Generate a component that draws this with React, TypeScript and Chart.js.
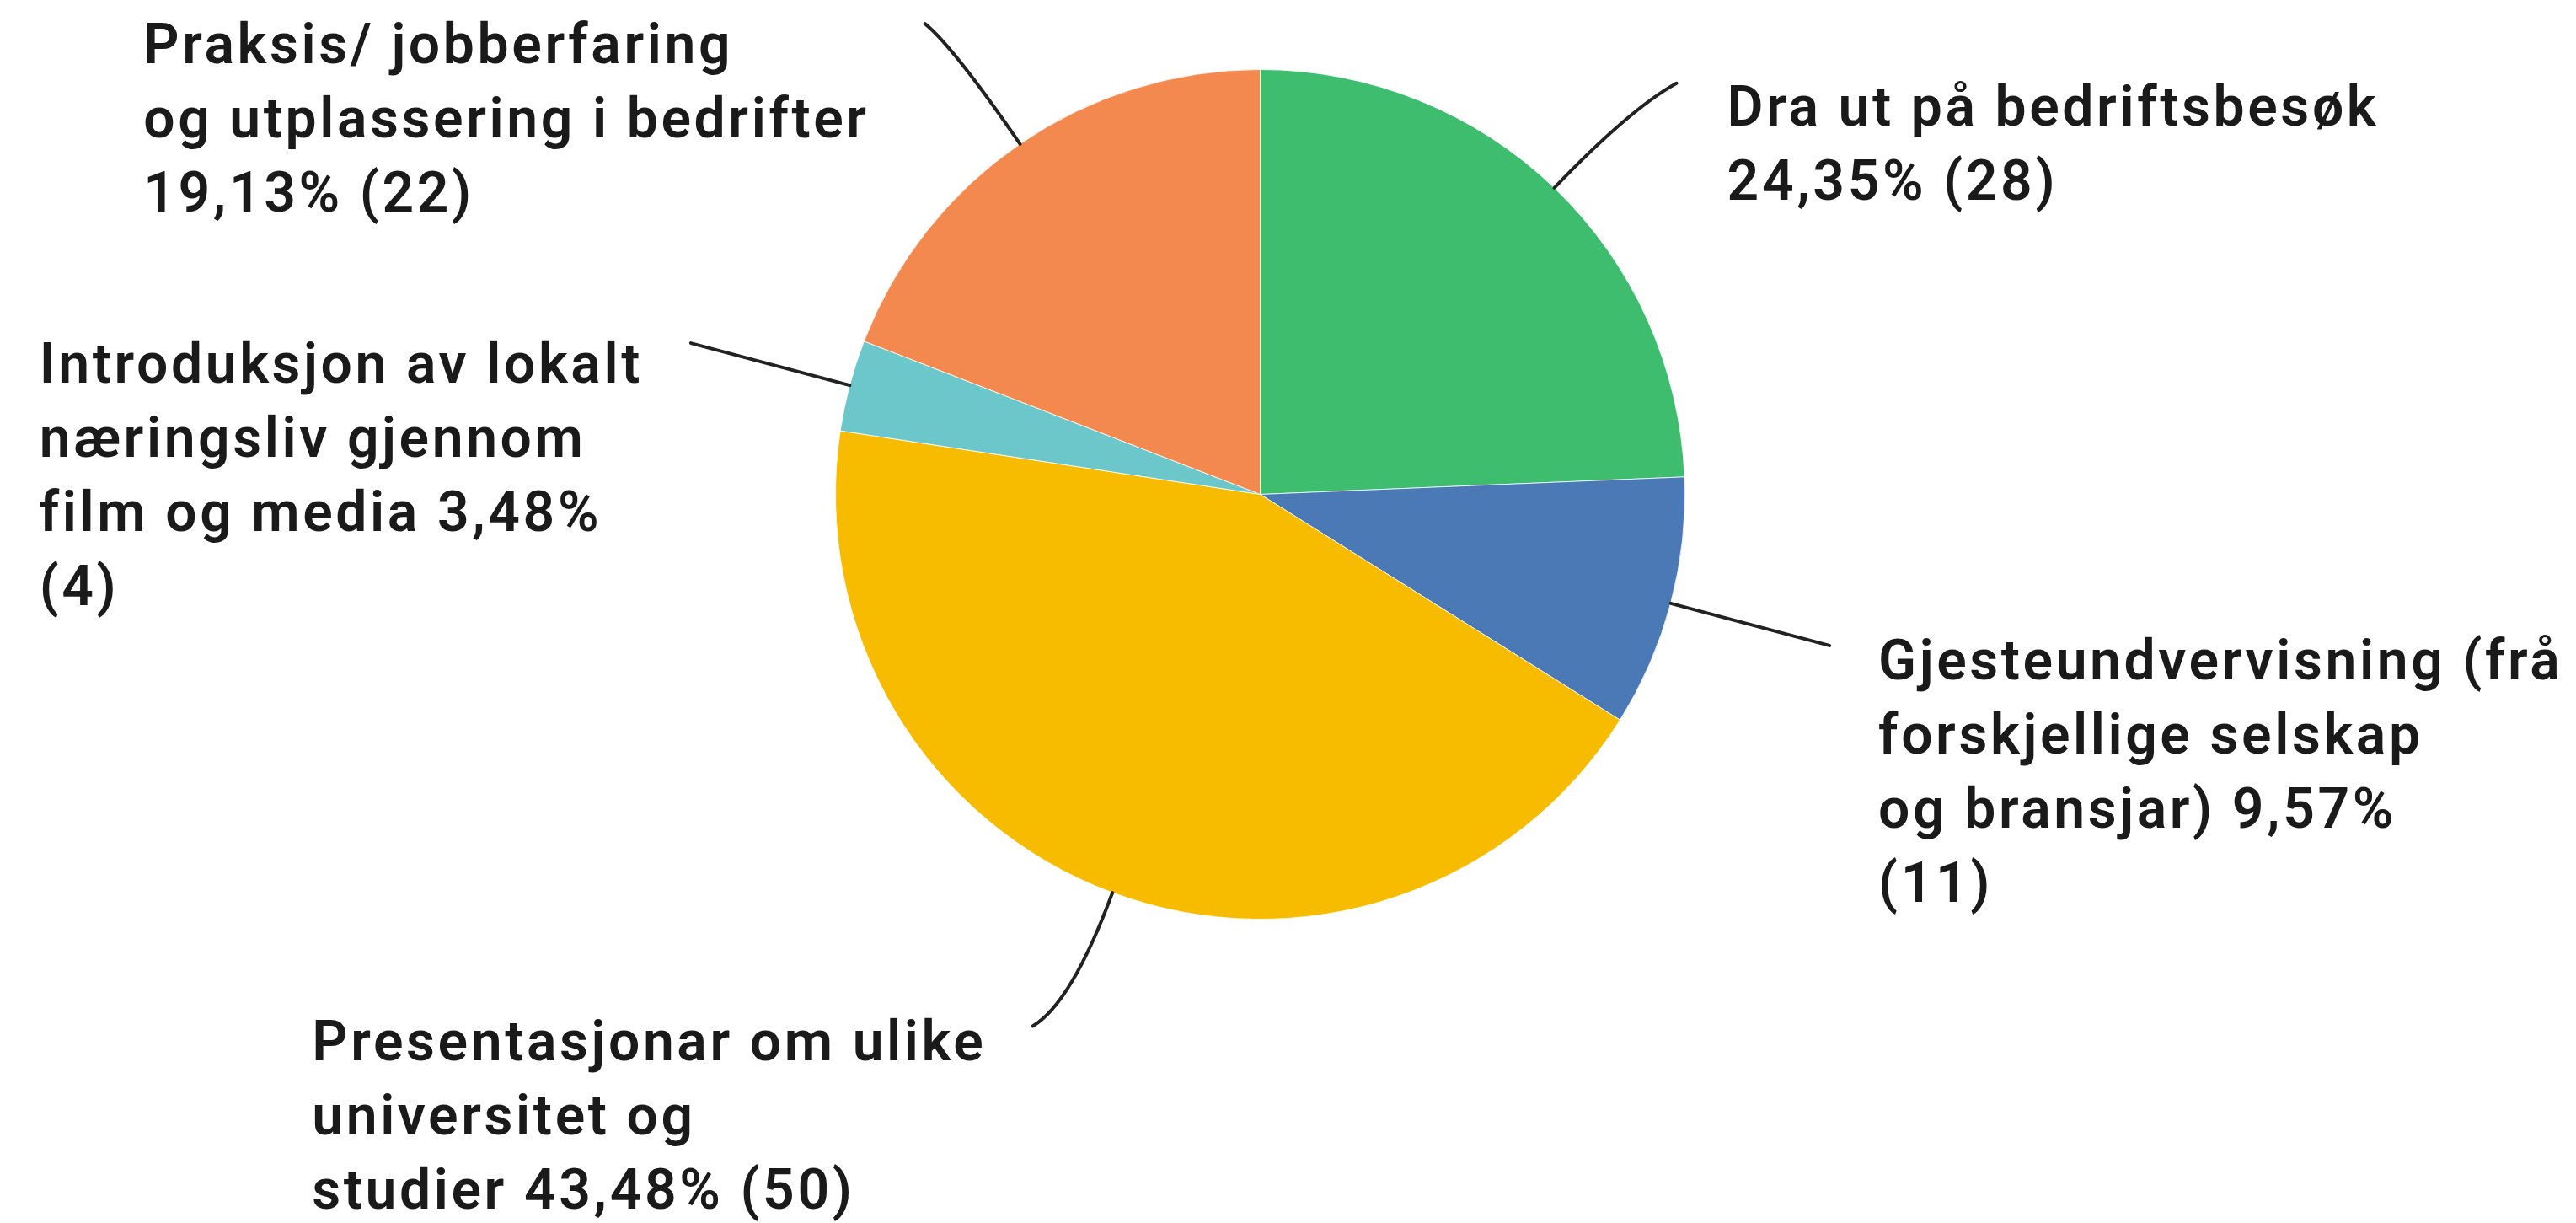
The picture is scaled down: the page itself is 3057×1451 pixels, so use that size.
import React, { useEffect, useRef } from "react";
import { Chart, registerables } from "chart.js";

Chart.register(...registerables);

// ---- data ----
const categories: string[] = [
  "Dra ut på bedriftsbesøk",
  "Gjesteundvervisning (frå forskjellige selskap og bransjar)",
  "Presentasjonar om ulike universitet og studier",
  "Introduksjon av lokalt næringsliv gjennom film og media",
  "Praksis/ jobberfaring og utplassering i bedrifter",
];
const counts: number[] = [28, 11, 50, 4, 22];
const colors: string[] = ["#3dbd6d", "#4b79b6", "#f7bc00", "#6cc7ca", "#f4894f"];

// ---- layout (words per line, leader geometry, text placement) ----
const wordsPerLine: number[][] = [
  [4, 2],
  [2, 2, 3, 1],
  [3, 2, 3],
  [3, 2, 4, 1],
  [2, 4, 2],
];
const leaderLen: number[] = [172, 195, 169, 195, 173];
const leaderBend: number[] = [26, 0, 36, 0, 15];
const leaderCtrl: number[] = [130, 100, 140, 100, 140];
const textGap: number[] = [60, 58, 55, 57, 66];
const textDy: number[] = [50, 40, 40, 47, 47];

const FONT_SIZE = 66;
const LINE_H = 88;
const FONT = `600 ${FONT_SIZE}px Roboto, "Noto Sans", sans-serif`;
const LETTER_SPACING = "3.6px";

function fmtPct(v: number, total: number): string {
  return (Math.round((v / total) * 10000) / 100).toFixed(2).replace(".", ",") + "%";
}

function buildLines(i: number, total: number): string[] {
  const tokens = `${categories[i]} ${fmtPct(counts[i], total)} (${counts[i]})`.split(" ");
  const out: string[] = [];
  let k = 0;
  for (const n of wordsPerLine[i]) {
    out.push(tokens.slice(k, k + n).join(" "));
    k += n;
  }
  if (k < tokens.length) out.push(tokens.slice(k).join(" "));
  return out;
}

const labelPlugin = {
  id: "pieLabels",
  afterDraw(chart: any) {
    const ctx: any = chart.ctx;
    const meta = chart.getDatasetMeta(0);
    const total = counts.reduce((a, b) => a + b, 0);
    ctx.save();
    ctx.font = FONT;
    ctx.letterSpacing = LETTER_SPACING;
    meta.data.forEach((arc: any, i: number) => {
      const { x, y, startAngle, endAngle, outerRadius } = arc.getProps(
        ["x", "y", "startAngle", "endAngle", "outerRadius"],
        true
      );
      const mid = (startAngle + endAngle) / 2;
      const ux = Math.cos(mid);
      const uy = Math.sin(mid);
      const sx = ux >= 0 ? 1 : -1;
      const p0x = x + outerRadius * ux;
      const p0y = y + outerRadius * uy;
      const cx = p0x + leaderCtrl[i] * ux;
      const cy = p0y + leaderCtrl[i] * uy;
      const ex = p0x + leaderLen[i] * ux + leaderBend[i] * sx;
      const ey = p0y + leaderLen[i] * uy;

      ctx.strokeStyle = "#222";
      ctx.lineWidth = 4;
      ctx.lineCap = "round";
      ctx.beginPath();
      ctx.moveTo(p0x, p0y);
      ctx.quadraticCurveTo(cx, cy, ex, ey);
      ctx.stroke();

      const lines = buildLines(i, total);
      const blockW = Math.max(...lines.map((l) => ctx.measureText(l).width));
      const left = sx > 0 ? ex + textGap[i] : ex - textGap[i] - blockW;
      ctx.fillStyle = "#1a1a1a";
      ctx.textAlign = "left";
      ctx.textBaseline = "alphabetic";
      lines.forEach((l, j) => {
        ctx.fillText(l, left, ey + textDy[i] + j * LINE_H);
      });
    });
    ctx.restore();
  },
};

export default function App() {
  const ref = useRef<HTMLCanvasElement | null>(null);
  useEffect(() => {
    if (!ref.current) return;
    const chart = new Chart(ref.current, {
      type: "pie",
      data: {
        labels: categories,
        datasets: [
          {
            data: counts,
            backgroundColor: colors,
            borderColor: "rgba(255,255,255,0.8)",
            borderWidth: 1,
            hoverOffset: 0,
            offset: 0,
          },
        ],
      },
      options: {
        responsive: false,
        animation: false,
        layout: { padding: { top: 82, bottom: 360, left: 991, right: 1057 } },
        plugins: { legend: { display: false }, tooltip: { enabled: false } },
        events: [],
      },
      plugins: [labelPlugin],
    });
    return () => chart.destroy();
  }, []);
  return (
    <div style={{ position: "fixed", left: 0, top: 0, width: 3057, height: 1451, background: "#fff" }}>
      <canvas ref={ref} width={3057} height={1451} style={{ display: "block" }} />
    </div>
  );
}
